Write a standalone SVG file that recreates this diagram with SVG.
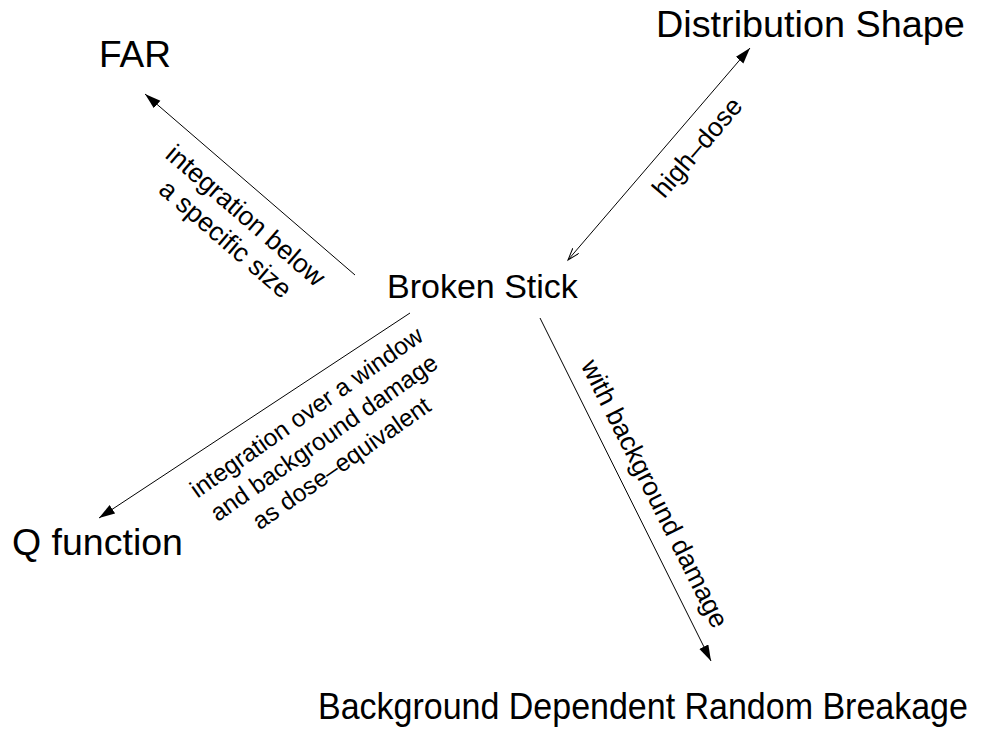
<svg xmlns="http://www.w3.org/2000/svg" width="984" height="729" viewBox="0 0 984 729">
  <style>
    text { font-family: "Liberation Sans", Arial, sans-serif; fill: #000; }
    .node { font-size: 36px; }
    .lbl { font-size: 26.5px; text-anchor: middle; }
    .lbl-q { font-size: 24.5px; text-anchor: middle; }
    .edge { stroke: #000; stroke-width: 1; fill: none; }
  </style>
  <defs>
    <marker id="head" markerUnits="userSpaceOnUse" markerWidth="18" markerHeight="12" refX="16" refY="5" orient="auto">
      <path d="M0,0 L16,5 L0,10 z" fill="#000"/>
    </marker>
    <marker id="open" markerUnits="userSpaceOnUse" markerWidth="14" markerHeight="10" refX="12" refY="4" orient="auto-start-reverse">
      <path d="M0,0 L12,4 L0,8" fill="none" stroke="#000" stroke-width="1"/>
    </marker>
  </defs>

  <rect width="984" height="729" fill="#fff"/>

  <!-- connectors -->
  <g id="edges">
    <line class="edge" x1="355" y1="275" x2="145" y2="94" marker-end="url(#head)"/>
    <line class="edge" x1="568" y1="260" x2="750" y2="48" marker-start="url(#open)" marker-end="url(#head)"/>
    <line class="edge" x1="410" y1="313" x2="99" y2="518" marker-end="url(#head)"/>
    <line class="edge" x1="540" y1="318" x2="711" y2="661" marker-end="url(#head)"/>
  </g>

  <!-- connector labels -->
  <g id="edge-labels">
    <g transform="translate(245.1,216.3) rotate(40.8)"><text class="lbl" dy="0.3em">integration below</text></g>
    <g transform="translate(224.9,239.7) rotate(40.8)"><text class="lbl" dy="0.3em">a specific size</text></g>

    <g transform="translate(698,148) rotate(-49.4)"><text class="lbl" dy="0.3em">high–dose</text></g>

    <g transform="translate(307,413) rotate(-35)"><text class="lbl-q" dy="0.3em">integration over a window</text></g>
    <g transform="translate(324.5,438.5) rotate(-35)"><text class="lbl-q" dy="0.3em">and background damage</text></g>
    <g transform="translate(342,464) rotate(-35)"><text class="lbl-q" dy="0.3em">as dose–equivalent</text></g>

    <g transform="translate(654,494) rotate(63.4)"><text class="lbl" dy="0.3em">with background damage</text></g>
  </g>

  <!-- nodes -->
  <g id="broken-stick"><text class="node" x="387" y="298" style="font-size:34px">Broken Stick</text></g>
  <g id="far"><text class="node" x="99" y="67" style="font-size:37px">FAR</text></g>
  <g id="distribution-shape"><text class="node" x="656" y="37" style="font-size:37.8px">Distribution Shape</text></g>
  <g id="q-function"><text class="node" x="12" y="555" style="font-size:37.5px">Q function</text></g>
  <!-- condensed wide label: narrower face size, stretched vertically -->
  <g id="background-breakage" transform="translate(318,719) scale(1,1.06)"><text x="0" y="0" style="font-size:34px">Background Dependent Random Breakage</text></g>
</svg>
